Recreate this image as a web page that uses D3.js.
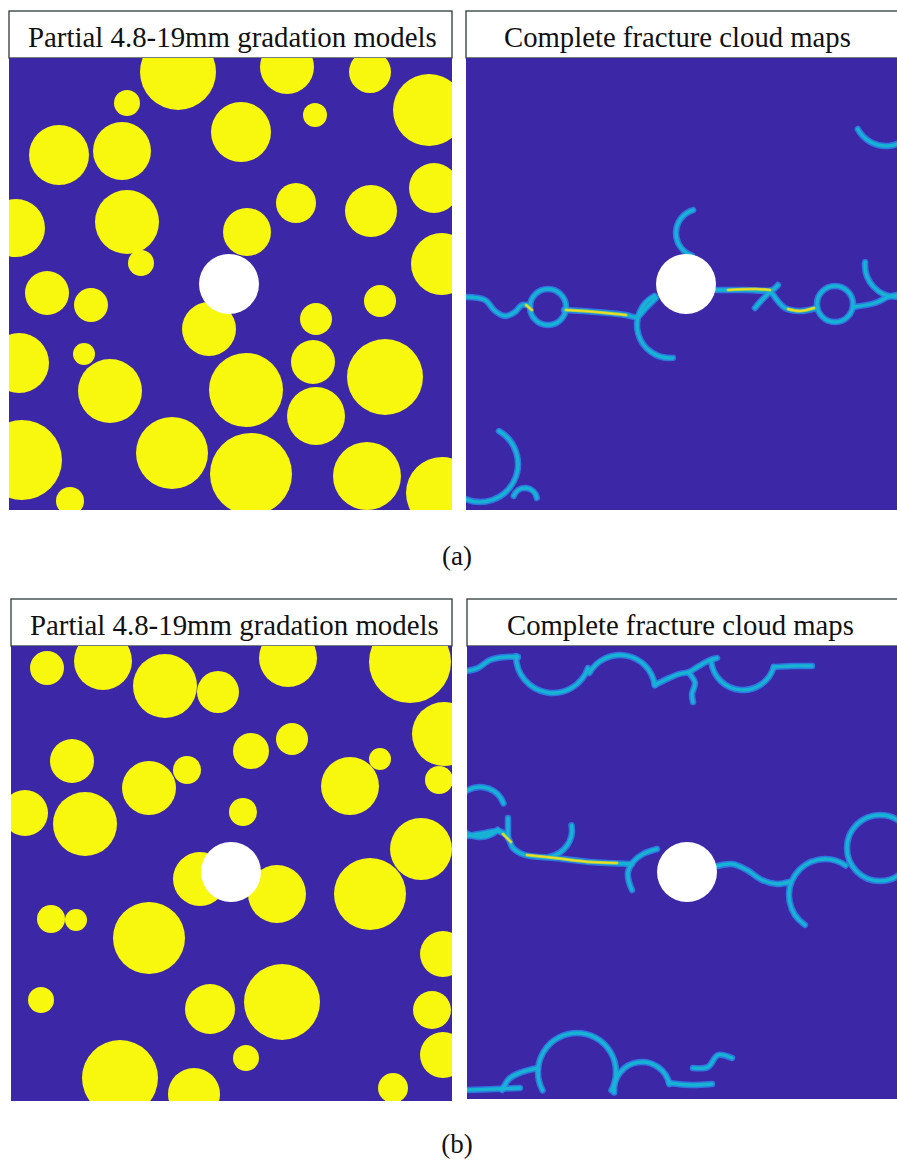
<!DOCTYPE html>
<html>
<head>
<meta charset="utf-8">
<script src="https://cdn.jsdelivr.net/npm/d3@7"></script>
<style>
  body { margin: 0; background: #fff; }
  svg { display: block; }
  .serif { font-family: "Liberation Serif", "Times New Roman", Tinos, "DejaVu Serif", serif; }
</style>
</head>
<body>
<svg id="chart"></svg>
<script>
"use strict";

// titles and case labels
const panelTitles = ["Partial 4.8-19mm gradation models", "Complete fracture cloud maps"];
const caseLabels = ["(a)", "(b)"];

// central hole, panel-local units [cx, cy, r]
const hole = [220, 226, 30];

// aggregates (yellow discs), [cx, cy, r] in panel-local units
const aggregatesA = [
  [169, 14, 38], [278, 9, 27], [361, 14, 21], [420, 52, 36], [118, 45, 13], [306, 57, 12],
  [50, 97, 30], [113, 93, 29], [232, 74, 30], [425, 130, 25], [7, 170, 29], [118, 164, 32],
  [287, 145, 20], [362, 153, 26], [238, 174, 24], [132, 205, 13], [433, 206, 31], [38, 235, 22],
  [82, 247, 17], [371, 243, 16], [307, 261, 16], [200, 271, 27], [10, 305, 30], [75, 296, 11],
  [101, 333, 32], [237, 332, 37], [304, 304, 22], [376, 319, 38], [307, 358, 29], [13, 402, 40],
  [163, 395, 36], [242, 416, 41], [358, 418, 34], [433, 435, 36], [61, 443, 14]
];
const aggregatesB = [
  [36, 22, 17], [92, 15, 29], [154, 40, 32], [207, 46, 21], [277, 12, 29], [399, 16, 41],
  [433, 88, 32], [61, 115, 22], [138, 142, 27], [176, 124, 14], [240, 105, 18], [281, 93, 16],
  [369, 113, 11], [339, 140, 29], [428, 134, 14], [14, 167, 23], [74, 178, 32], [232, 166, 14],
  [410, 203, 31], [189, 233, 27], [266, 248, 29], [359, 248, 36], [40, 273, 14], [65, 274, 11],
  [138, 292, 36], [432, 308, 23], [30, 354, 13], [199, 363, 25], [271, 356, 38], [421, 364, 19],
  [432, 409, 23], [235, 412, 13], [109, 432, 38], [183, 448, 26], [382, 442, 15]
];

// crack arcs [cx, cy, r, startDeg, endDeg] (0deg = up, clockwise)
const crackArcsA = [
  [420, 56, 32, 105, 242], [234, 175, 24, 200, 343], [204, 267, 33, 175, 332],
  [82, 249, 18, 0, 360], [369, 246, 18, 0, 360], [431, 207, 32, 180, 275],
  [14, 406, 38, 30, 205], [59, 442, 12, -70, 80]
];
const crackArcsB = [
  [86, 10, 37, 109, 270], [153, 44, 35, -61, 82], [276, 12, 32, 106, 263],
  [13, 166, 25, 135, 430], [78, 184, 27, 80, 170], [358, 249, 36, 214, 395],
  [413, 202, 33, 0, 360], [110, 426, 39, -118, 118], [175, 444, 28, -95, 78]
];

// crack polylines, panel-local points
const crackLinesA = [
  [[0, 239], [19, 242], [29, 253], [39, 258], [49, 254], [56, 247], [64, 248]],
  [[98, 252], [130, 254], [160, 257], [171, 259], [180, 250], [190, 240]],
  [[250, 232], [279, 232], [306, 232], [312, 227]],
  [[304, 234], [294, 244], [289, 250]],
  [[306, 235], [319, 250], [334, 253], [351, 250]],
  [[387, 249], [409, 245], [422, 239], [431, 237]]
];
const crackLinesB = [
  [[0, 25], [11, 22], [23, 14], [38, 11], [51, 11]],
  [[188, 39], [200, 33], [212, 28], [222, 26], [232, 20], [243, 14], [250, 12]],
  [[222, 27], [228, 37], [225, 48], [226, 56]],
  [[307, 21], [325, 20], [345, 20]],
  [[0, 190], [18, 187], [31, 185], [40, 190], [46, 202], [58, 209], [88, 212], [123, 216], [165, 218]],
  [[41, 172], [41, 192]],
  [[190, 203], [176, 208], [166, 216], [161, 226], [162, 236], [165, 244]],
  [[250, 220], [265, 218], [280, 224], [295, 234], [310, 238], [322, 236]],
  [[0, 444], [28, 443], [53, 442]],
  [[35, 444], [43, 432], [55, 426], [71, 422]],
  [[202, 437], [223, 439], [245, 438]],
  [[226, 422], [241, 421], [251, 409], [265, 412]]
];

// high-damage (yellow) stretches of the cracks
const hotLinesA = [
  [[100, 252], [130, 254], [160, 257]],
  [[262, 232], [290, 231], [304, 232]],
  [[322, 251], [334, 253], [348, 250]],
  [[60, 247], [66, 252]]
];
const hotLinesB = [
  [[60, 209], [88, 212], [123, 216], [150, 217]],
  [[36, 188], [44, 196]]
];

const W = 897;
const H = 1160;

const panels = [
  { x: 9, y: 58, w: 443, h: 452, title: panelTitles[0], tx: 28, discs: aggregatesA },
  { x: 466, y: 58, w: 431, h: 452, title: panelTitles[1], tx: 504, arcs: crackArcsA, lines: crackLinesA, hot: hotLinesA },
  { x: 11, y: 646, w: 441, h: 455, title: panelTitles[0], tx: 30, discs: aggregatesB },
  { x: 467, y: 646, w: 430, h: 453, title: panelTitles[1], tx: 507, arcs: crackArcsB, lines: crackLinesB, hot: hotLinesB }
];
const titleWidths = { [panelTitles[0]]: 409, [panelTitles[1]]: 347 };

const colors = { bg: "#3c28a6", agg: "#f8f80f", hole: "#ffffff", halo: "#2a86ea", core: "#17b3d4", hotOuter: "#b8d63c", hotCore: "#f4dc22" };

const svg = d3.select("#chart").attr("width", W).attr("height", H);
const defs = svg.append("defs");

panels.forEach((p, i) => {
  const x = d3.scaleLinear().domain([0, p.w]).range([p.x, p.x + p.w]);
  const y = d3.scaleLinear().domain([0, p.h]).range([p.y, p.y + p.h]);
  const rs = (r) => x(r) - x(0);

  defs.append("clipPath").attr("id", `clip${i}`)
    .append("rect").attr("x", p.x).attr("y", p.y).attr("width", p.w).attr("height", p.h);

  // title box
  svg.append("rect")
    .attr("x", p.x).attr("y", p.y - 47)
    .attr("width", p.x + p.w >= W ? p.w + 4 : p.w).attr("height", 47)
    .attr("fill", "#fff").attr("stroke", "#2f3a3a").attr("stroke-width", 1.3);

  const t = svg.append("text")
    .attr("class", "serif")
    .attr("x", p.tx).attr("y", p.y - 11)
    .style("font-size", "100px").attr("fill", "#111")
    .text(p.title);
  const len = t.node().getComputedTextLength();
  t.style("font-size", `${100 * titleWidths[p.title] / len}px`);

  const g = svg.append("g").attr("clip-path", `url(#clip${i})`);
  g.append("rect").attr("x", p.x).attr("y", p.y).attr("width", p.w).attr("height", p.h).attr("fill", colors.bg);

  if (p.discs) {
    g.selectAll("circle.agg").data(p.discs).enter().append("circle")
      .attr("class", "agg")
      .attr("cx", (d) => x(d[0])).attr("cy", (d) => y(d[1])).attr("r", (d) => rs(d[2]))
      .attr("fill", colors.agg);
  } else {
    const arcPath = (d) => {
      const pth = d3.path();
      const a0 = (d[3] - 90) * Math.PI / 180;
      const a1 = (d[4] - 90) * Math.PI / 180;
      pth.moveTo(x(d[0]) + rs(d[2]) * Math.cos(a0), y(d[1]) + rs(d[2]) * Math.sin(a0));
      pth.arc(x(d[0]), y(d[1]), rs(d[2]), a0, a1, false);
      return pth.toString();
    };
    const line = d3.line().x((d) => x(d[0])).y((d) => y(d[1])).curve(d3.curveCatmullRom.alpha(0.5));

    [[colors.halo, 6.5, 0.85], [colors.core, 3.4, 1]].forEach(([c, sw, op]) => {
      g.append("g").selectAll("path").data(p.arcs).enter().append("path")
        .attr("d", arcPath).attr("fill", "none").attr("stroke", c).attr("stroke-width", sw)
        .attr("stroke-opacity", op).attr("stroke-linecap", "round");
      g.append("g").selectAll("path").data(p.lines).enter().append("path")
        .attr("d", line).attr("fill", "none").attr("stroke", c).attr("stroke-width", sw)
        .attr("stroke-opacity", op).attr("stroke-linecap", "round").attr("stroke-linejoin", "round");
    });
    [[colors.hotOuter, 3, 0.9], [colors.hotCore, 1.6, 1]].forEach(([c, sw, op]) => {
      g.append("g").selectAll("path").data(p.hot).enter().append("path")
        .attr("d", line).attr("fill", "none").attr("stroke", c).attr("stroke-width", sw)
        .attr("stroke-opacity", op).attr("stroke-linecap", "round");
    });
  }

  g.append("circle")
    .attr("cx", x(hole[0])).attr("cy", y(hole[1])).attr("r", rs(hole[2]))
    .attr("fill", colors.hole);
});

// case labels under each row
svg.selectAll("text.case").data(caseLabels).enter().append("text")
  .attr("class", "case serif")
  .attr("x", 457)
  .attr("y", (d, i) => (i === 0 ? 565 : 1153))
  .attr("text-anchor", "middle")
  .style("font-size", "27px").attr("fill", "#111")
  .text((d) => d);
</script>
</body>
</html>
